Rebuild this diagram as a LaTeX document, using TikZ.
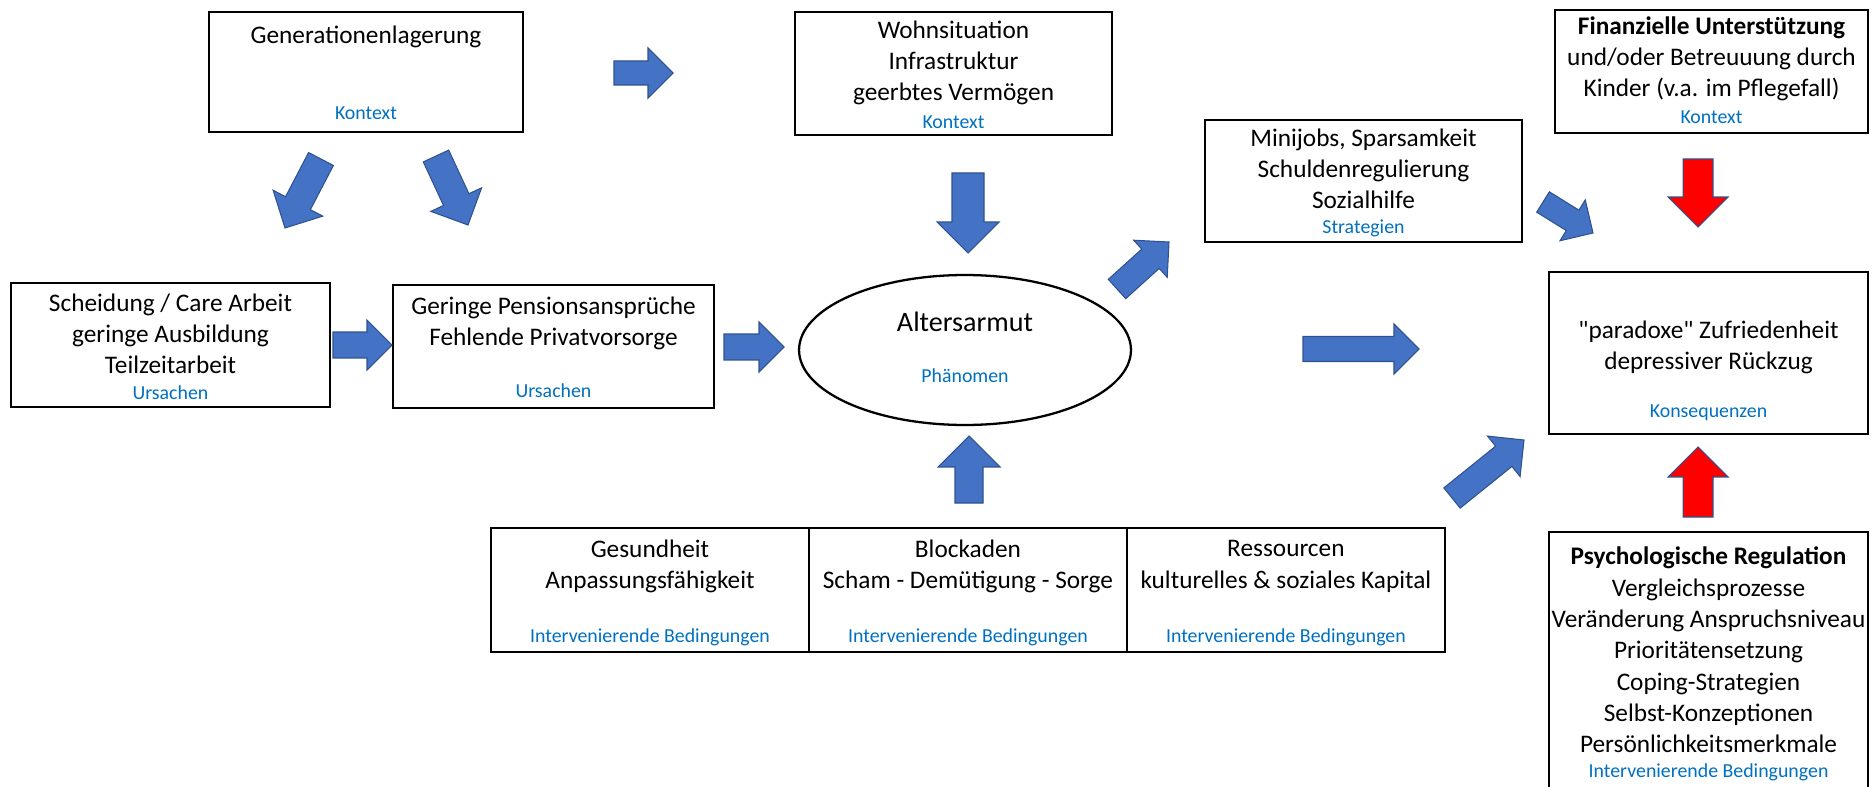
\documentclass[tikz,border=0pt]{standalone}
\usepackage{fontspec}
\setmainfont{Carlito}
\usepackage{tikz}
\usetikzlibrary{calc}
\usetikzlibrary{positioning}
\usetikzlibrary{shapes.geometric}

\definecolor{pfeilblau}{RGB}{68,114,196}
\definecolor{pfeilrand}{RGB}{47,82,143}
\definecolor{etikett}{RGB}{0,112,192}

\tikzset{
	kasten/.style={draw=black, line width=1.4pt, inner sep=0pt, outer sep=0pt},
	txt/.style={align=center, font=\fontsize{14.4}{17.8}\selectfont},
	lbl/.style={text=etikett, font=\fontsize{11.3}{13.5}\selectfont},
	blau/.style={fill=pfeilblau, draw=pfeilrand, line width=0.6pt},
	rot/.style={fill=red, draw=pfeilrand, line width=0.6pt}
}

% Blockpfeil: Stil, Anfang, Spitze, halbe Schaftbreite, halbe Kopfbreite
\newcommand{\blockarrow}[5]{%
	\coordinate (hb) at ($(#3)!#5!(#2)$);
	\draw[#1] ($(#2)!#4!90:(#3)$) -- ($(hb)!#4!90:(#3)$) -- ($(hb)!#5!90:(#3)$) -- (#3)
		-- ($(hb)!#5!-90:(#3)$) -- ($(hb)!#4!-90:(#3)$) -- ($(#2)!#4!-90:(#3)$) -- cycle;
}

\begin{document}
\begin{tikzpicture}[x=0.02cm, y=-0.02cm]
				\useasboundingbox (0,0) rectangle (1875,787);

				% Kasten
				\node[kasten, minimum width=6.28cm, minimum height=2.4cm] (gen) at (366,72) {};
				\node[kasten, minimum width=6.34cm, minimum height=2.46cm] (wohn) at (953.5,73.5) {};
				\node[kasten, minimum width=6.26cm, minimum height=2.46cm] (finanz) at (1711.5,71.5) {};
				\node[kasten, minimum width=6.34cm, minimum height=2.44cm] (mini) at (1363.5,181) {};
				\node[kasten, minimum width=6.38cm, minimum height=2.48cm] (scheid) at (170.5,345) {};
				\node[kasten, minimum width=6.42cm, minimum height=2.46cm] (gering) at (553.5,346.5) {};
				\node[draw=black, line width=1.3pt, ellipse, inner sep=0pt, minimum width=6.64cm, minimum height=3cm] (alter) at (965,350) {};
				\node[kasten, minimum width=6.38cm, minimum height=3.24cm] (parad) at (1708.5,353) {};
				\node[kasten, minimum width=6.38cm, minimum height=5.16cm] (psych) at (1708.5,661) {};
				\node[kasten, minimum width=6.36cm, minimum height=2.48cm] (gesund) at (650,590) {};
				\node[kasten, minimum width=6.36cm, minimum height=2.48cm, right=0pt of gesund] (blockad) {};
				\node[kasten, minimum width=6.36cm, minimum height=2.48cm, right=0pt of blockad] (ressourc) {};

				% Texte
				\node[txt] (genT) at (366,37) {Generationenlagerung};
				\node[lbl] (genL) at (366,113) {Kontext};
				\node[txt] (wohnT) at (953.5,63) {Wohnsituation\\Infrastruktur\\geerbtes Vermögen};
				\node[lbl] (wohnL) at (953.5,122) {Kontext};
				\node[txt] (finanzT) at (1711.5,59) {\textbf{Finanzielle Unterstützung}\\und/oder Betreuuung durch\\Kinder (v.a. im Pflegefall)};
				\node[lbl] (finanzL) at (1711.5,117) {Kontext};
				\node[txt] (miniT) at (1363.5,169) {Minijobs, Sparsamkeit\\Schuldenregulierung\\Sozialhilfe};
				\node[lbl] (miniL) at (1363.5,228) {Strategien};
				\node[txt] (scheidT) at (170.5,334) {Scheidung / Care Arbeit\\geringe Ausbildung\\Teilzeitarbeit};
				\node[lbl] (scheidL) at (170.5,393) {Ursachen};
				\node[txt] (geringT) at (553.5,323.5) {Geringe Pensionsansprüche\\Fehlende Privatvorsorge};
				\node[lbl] (geringL) at (553.5,391) {Ursachen};
				\node[font=\fontsize{16}{19}\selectfont] (alterT) at (965,322) {Altersarmut};
				\node[lbl] (alterL) at (965,376) {Phänomen};
				\node[txt] (paradT) at (1708.5,347.5) {\textquotedbl paradoxe\textquotedbl\ Zufriedenheit\\depressiver Rückzug};
				\node[lbl] (paradL) at (1708.5,413) {Konsequenzen};
				\node[txt] (gesundT) at (gesund.center |- 0,566.5) {Gesundheit\\Anpassungsfähigkeit};
				\node[lbl] (gesundL) at (gesund.center |- 0,637) {Intervenierende Bedingungen};
				\node[txt] (blockadT) at (blockad.center |- 0,566.5) {Blockaden\\Scham - Demütigung - Sorge};
				\node[lbl] (blockadL) at (blockad.center |- 0,637) {Intervenierende Bedingungen};
				\node[txt] (ressourcT) at (ressourc.center |- 0,566.5) {Ressourcen\\kulturelles \& soziales Kapital};
				\node[lbl] (ressourcL) at (ressourc.center |- 0,637) {Intervenierende Bedingungen};
				\node[txt] (psychT) at (1708.5,650) {\textbf{Psychologische Regulation}\\Vergleichsprozesse\\Veränderung Anspruchsniveau\\Prioritätensetzung\\Coping-Strategien\\Selbst-Konzeptionen\\Persönlichkeitsmerkmale};
				\node[lbl] (psychL) at (1708.5,772) {Intervenierende Bedingungen};

				% Pfeile
				\coordinate (gw1) at (614,73);		\coordinate (gw2) at (673,73);
				\coordinate (gs1) at (321,159);		\coordinate (gs2) at (285,228);
				\coordinate (gg1) at (436,156);		\coordinate (gg2) at (468,225);
				\coordinate (sg1) at (333,345);		\coordinate (sg2) at (392,345);
				\coordinate (ga1) at (724,347);		\coordinate (ga2) at (784,347);
				\coordinate (wa1) at (968,173);		\coordinate (wa2) at (968,253);
				\coordinate (ba1) at (969,503);		\coordinate (ba2) at (969,436);
				\coordinate (am1) at (1117,289);	\coordinate (am2) at (1169,242);
				\coordinate (ap1) at (1303,349);	\coordinate (ap2) at (1419,349);
				\coordinate (mp1) at (1543,202);	\coordinate (mp2) at (1593,233);
				\coordinate (rp1) at (1452,498);	\coordinate (rp2) at (1524,440);
				\coordinate (fp1) at (1698,159);	\coordinate (fp2) at (1698,227);
				\coordinate (pp1) at (1698,517);	\coordinate (pp2) at (1698,447);

				\blockarrow{blau}{gw1}{gw2}{0.24cm}{0.5cm}
				\blockarrow{blau}{gs1}{gs2}{0.28cm}{0.56cm}
				\blockarrow{blau}{gg1}{gg2}{0.28cm}{0.56cm}
				\blockarrow{blau}{sg1}{sg2}{0.26cm}{0.5cm}
				\blockarrow{blau}{ga1}{ga2}{0.26cm}{0.5cm}
				\blockarrow{blau}{wa1}{wa2}{0.32cm}{0.62cm}
				\blockarrow{blau}{ba1}{ba2}{0.28cm}{0.62cm}
				\blockarrow{blau}{am1}{am2}{0.26cm}{0.5cm}
				\blockarrow{blau}{ap1}{ap2}{0.25cm}{0.5cm}
				\blockarrow{blau}{mp1}{mp2}{0.24cm}{0.48cm}
				\blockarrow{blau}{rp1}{rp2}{0.26cm}{0.52cm}
				\blockarrow{rot}{fp1}{fp2}{0.3cm}{0.6cm}
				\blockarrow{rot}{pp1}{pp2}{0.3cm}{0.6cm}

			\end{tikzpicture}
\end{document}
